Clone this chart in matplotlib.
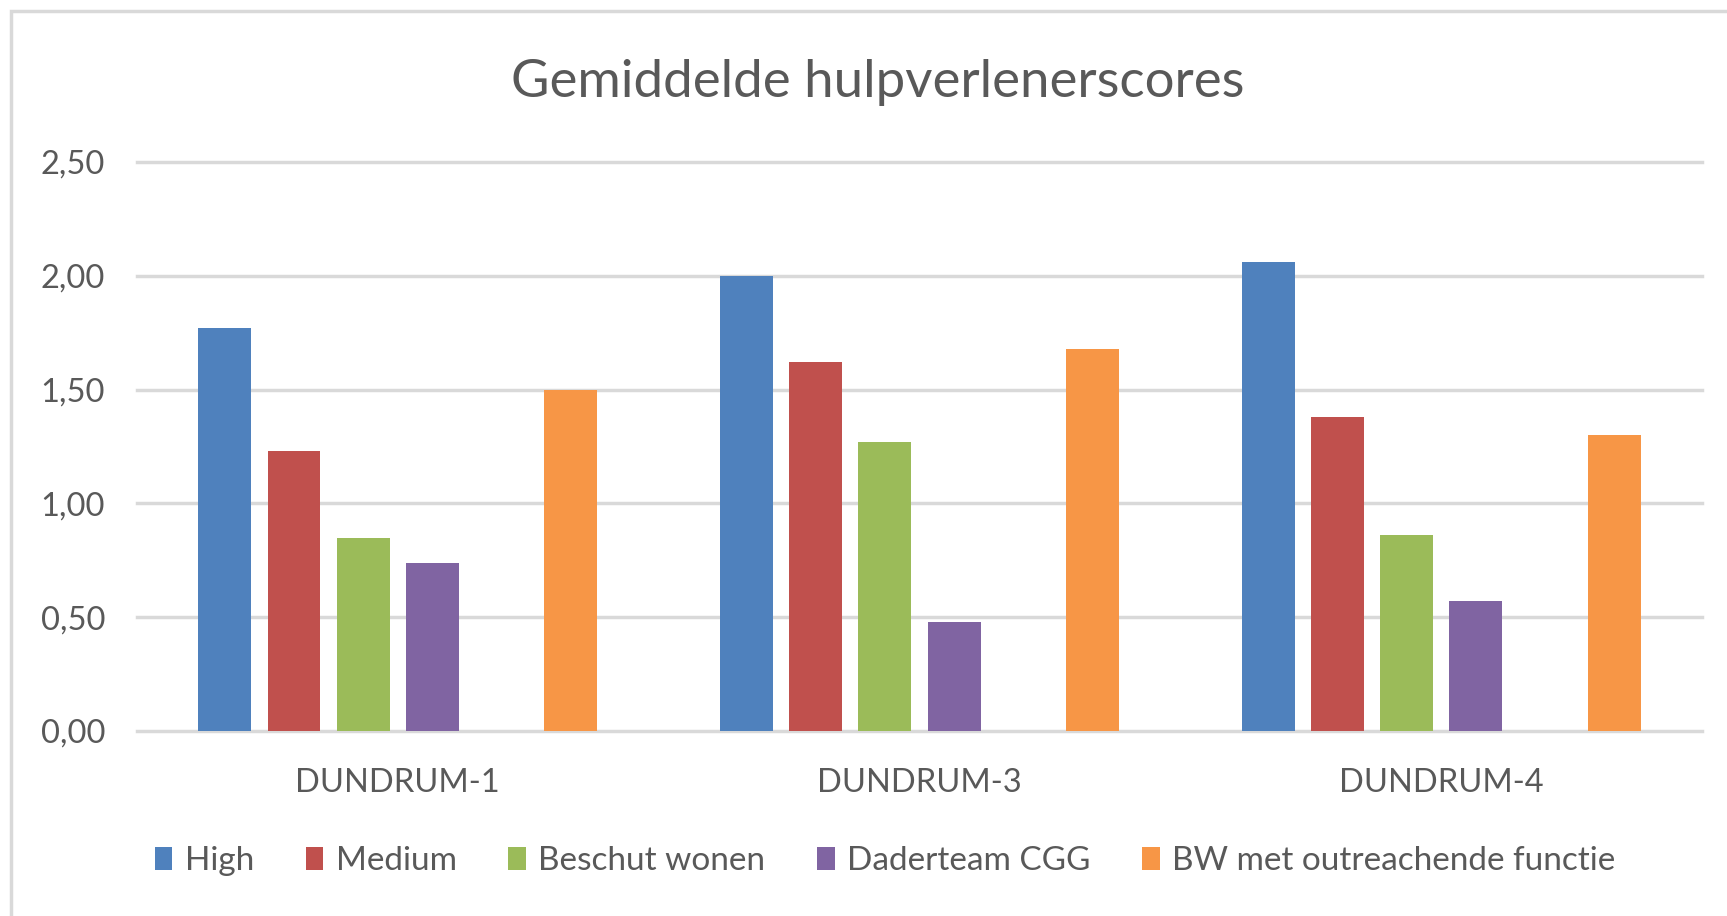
import numpy as np
import matplotlib.pyplot as plt
from matplotlib.patches import Rectangle
from matplotlib.ticker import FuncFormatter

# data
categories = ['DUNDRUM-1', 'DUNDRUM-3', 'DUNDRUM-4']
series_names = ['High', 'Medium', 'Beschut wonen', 'Daderteam CGG',
                'BW met outreachende functie']
high = [1.77, 2.00, 2.06]
medium = [1.23, 1.62, 1.38]
beschut = [0.85, 1.27, 0.86]
daderteam = [0.74, 0.48, 0.57]
bw_outreach = [1.50, 1.68, 1.30]
yticks = [0.0, 0.5, 1.0, 1.5, 2.0, 2.5]

series = [high, medium, beschut, daderteam, bw_outreach]
colors = ['#4F81BD', '#C0504D', '#9BBB59', '#8064A2', '#F79646']
# Excel left an empty slot before the last series
slots = [0, 1, 2, 3, 5]

plt.rcParams['font.family'] = ['Lato', 'DejaVu Sans']
text_col = '#595959'

fig = plt.figure(figsize=(17.27, 9.16), dpi=100)
fig.patch.set_facecolor('white')

# chart frame (runs off the right and bottom edge)
fig.patches.append(Rectangle((11 / 1727, -0.05), 1.2, (916 - 11) / 916 + 0.05,
                             transform=fig.transFigure, fill=False,
                             edgecolor='#D9D9D9', linewidth=2.5))

ax = fig.add_axes([137 / 1727, 185 / 916, (1702 - 137) / 1727, (731 - 162) / 916])

x = np.arange(len(categories))
step = 0.1326
width = 0.1013
for vals, col, slot, name in zip(series, colors, slots, series_names):
    ax.bar(x + (slot - 2.5) * step, vals, width=width, color=col, label=name,
           zorder=3)

ax.set_xlim(-0.5, len(categories) - 0.5)
ax.set_ylim(0, 2.5)
ax.set_yticks(yticks)
ax.yaxis.set_major_formatter(FuncFormatter(lambda v, p: f'{v:.2f}'.replace('.', ',')))
ax.set_xticks(x)
ax.set_xticklabels(categories)
ax.tick_params(axis='both', length=0, colors=text_col, labelsize=23.5)
ax.tick_params(axis='y', pad=23)
ax.tick_params(axis='x', pad=27)

ax.yaxis.grid(True, color='#D9D9D9', linewidth=2.5, zorder=0)
for gl in ax.get_ygridlines():
    gl.set_clip_on(False)
for s in ax.spines.values():
    s.set_visible(False)

fig.text(878 / 1727, 1 - 83 / 916, 'Gemiddelde hulpverlenerscores',
         ha='center', va='center', fontsize=38, color=text_col)

leg = ax.legend(loc='center', bbox_to_anchor=(885 / 1727, 1 - 861 / 916),
                bbox_transform=fig.transFigure, ncol=5, frameon=False,
                fontsize=24, handlelength=0.53, handleheight=0.68,
                handletextpad=0.37, columnspacing=1.55)
for t in leg.get_texts():
    t.set_color(text_col)

fig.savefig('out.png', dpi=100)
